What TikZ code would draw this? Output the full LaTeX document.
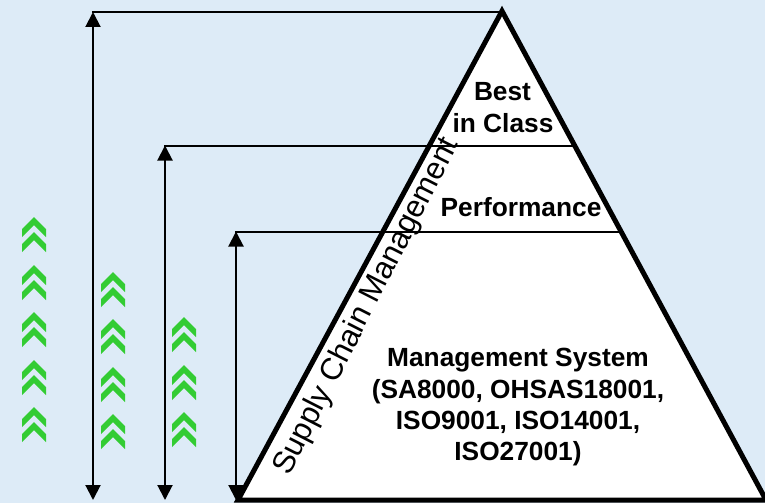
\documentclass[tikz,border=0pt]{standalone}
\usepackage{fontspec}
\setmainfont{Liberation Sans}
\usetikzlibrary{arrows.meta}
\definecolor{bgblue}{RGB}{221,235,247}
\definecolor{chevgreen}{RGB}{51,204,51}
\tikzset{
  dimarrow/.style={line width=2pt, {Triangle[length=15pt,width=15pt]}-{Triangle[length=15pt,width=15pt]}},
  levelline/.style={line width=2pt},
  pyramid/.style={line width=5pt, line join=miter},
  lbl/.style={font=\fontsize{26.3}{31.5}\selectfont\bfseries, inner sep=0pt, anchor=base},
  sidelbl/.style={font=\fontsize{31}{36}\selectfont, inner sep=0pt, anchor=base west, rotate=63},
  dchev/.pic={
    \fill[chevgreen] (0,0)--(12,12)--(12,20)--(0,8)--(-12,20)--(-12,12)--cycle;
    \fill[chevgreen] (0,15)--(12,27)--(12,35)--(0,23)--(-12,35)--(-12,27)--cycle;
  }
}
\begin{document}
\begin{tikzpicture}[x=1pt,y=-1pt]
\useasboundingbox (0,0) rectangle (765,503);
\fill[bgblue] (0,0) rectangle (765,503);
% pyramid corners
\coordinate (apex) at (502,11);
\coordinate (bl) at (238,500);
\coordinate (br) at (766,500);
\fill[white] (apex)--(bl)--(br)--cycle;
% dimension arrows and level lines
\coordinate (t1) at (93,12);   \coordinate (b1) at (93,500);
\coordinate (t2) at (165,145.5); \coordinate (b2) at (165,500);
\coordinate (t3) at (236,231.5); \coordinate (b3) at (236,500);
\coordinate (h1s) at (92,12);  \coordinate (h1e) at (502,12);
\coordinate (h2s) at (164,145.5); \coordinate (h2e) at (575,145.5);
\coordinate (h3s) at (235,231.5); \coordinate (h3e) at (621,231.5);
\draw[levelline] (h1s) -- (h1e);
\draw[levelline] (h2s) -- (h2e);
\draw[levelline] (h3s) -- (h3e);
\draw[dimarrow] (b1) -- (t1);
\draw[dimarrow] (b2) -- (t2);
\draw[dimarrow] (b3) -- (t3);
\draw[pyramid] (apex)--(bl)--(br)--cycle;
% labels
\node[lbl] (best1) at (502.5,100.7) {Best};
\node[lbl] (best2) at (503,132.3) {in Class};
\node[lbl] (perf) at (521,216) {Performance};
\node[lbl] (ms1) at (518,366.5) {Management System};
\node[lbl] (ms2) at (518,398) {(SA8000, OHSAS18001,};
\node[lbl] (ms3) at (518,429) {ISO9001, ISO14001,};
\node[lbl] (ms4) at (518,460.5) {ISO27001)};
\node[sidelbl] (scm) at (289,477) {Supply Chain Management};
% chevrons
\foreach \y in {217,265,312,360,407} { \pic at (34,\y) {dchev}; }
\foreach \y in {272,319,367,414} { \pic at (113,\y) {dchev}; }
\foreach \y in {317,365,412} { \pic at (184,\y) {dchev}; }
\end{tikzpicture}
\end{document}
